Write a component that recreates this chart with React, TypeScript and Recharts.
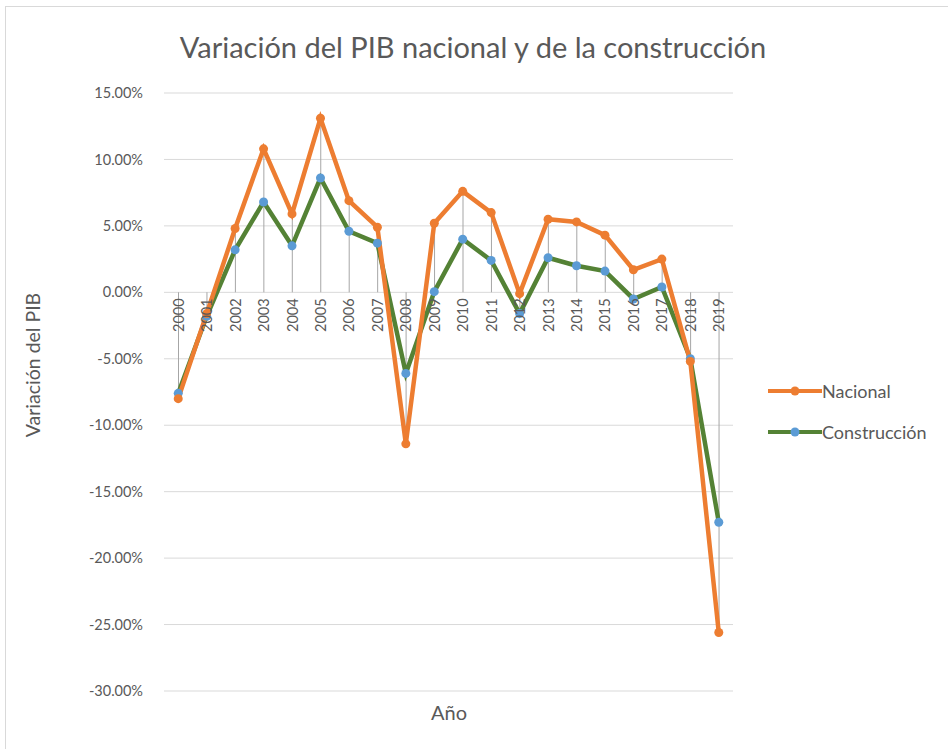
import React from "react";
import {
  ComposedChart,
  Line,
  Bar,
  XAxis,
  YAxis,
  CartesianGrid,
  LabelList,
} from "recharts";

const years = [
  "2000", "2001", "2002", "2003", "2004", "2005", "2006", "2007", "2008", "2009",
  "2010", "2011", "2012", "2013", "2014", "2015", "2016", "2017", "2018", "2019",
];

const nacional = [
  -8.0, -1.6, 4.8, 10.8, 5.9, 13.1, 6.9, 4.9, -11.4, 5.2,
  7.6, 6.0, -0.1, 5.5, 5.3, 4.3, 1.7, 2.5, -5.2, -25.6,
];

const construccion = [
  -7.6, -1.8, 3.2, 6.8, 3.5, 8.6, 4.6, 3.7, -6.1, 0.05,
  4.0, 2.4, -1.6, 2.6, 2.0, 1.6, -0.5, 0.4, -5.0, -17.3,
];

const yTicks = [15, 10, 5, 0, -5, -10, -15, -20, -25, -30];

const seriesNames = ["Nacional", "Construcción"];

const ORANGE = "#ED7D31";
const GREEN = "#548235";
const BLUE = "#5B9BD5";
const TEXT = "#595959";
const FONT = "Lato, 'Open Sans', sans-serif";

const data = years.map((year, i) => {
  const vals = [nacional[i], construccion[i]];
  const lo = Math.min(0, ...vals);
  const hi = Math.max(0, ...vals);
  return {
    year,
    nacional: nacional[i],
    construccion: construccion[i],
    drop: [lo, hi],
    zero: 0,
  };
});

const YearLabel = (props: any) => {
  const { x, y, value } = props;
  const yy = y + 6;
  return (
    <text
      x={x}
      y={yy}
      transform={`rotate(-90, ${x}, ${yy})`}
      textAnchor="end"
      dominantBaseline="central"
      fontSize={14.5}
      fill={TEXT}
      fontFamily={FONT}
    >
      {value}
    </text>
  );
};

const LegendBox = () => {
  const items = [
    { name: seriesNames[0], line: ORANGE, dot: ORANGE },
    { name: seriesNames[1], line: GREEN, dot: BLUE },
  ];
  return (
    <div
      style={{
        position: "absolute",
        left: 768,
        top: 370,
        width: 180,
        fontFamily: FONT,
      }}
    >
      {items.map((it) => (
        <div
          key={it.name}
          style={{ display: "flex", alignItems: "center", height: 41 }}
        >
          <svg width={54} height={12} style={{ flex: "none" }}>
            <line x1={0} y1={6} x2={54} y2={6} stroke={it.line} strokeWidth={4} />
            <circle cx={27} cy={6} r={4.5} fill={it.dot} />
          </svg>
          <span style={{ fontSize: 18, color: TEXT, whiteSpace: "nowrap" }}>{it.name}</span>
        </div>
      ))}
    </div>
  );
};

export default function App() {
  return (
    <div
      style={{
        position: "absolute",
        left: 0,
        top: 0,
        width: 948,
        height: 749,
        overflow: "hidden",
        background: "#fff",
      }}
    >
      <div
        style={{
          position: "absolute",
          left: 5,
          top: 6,
          width: 1000,
          height: 800,
          borderLeft: "1px solid #d9d9d9",
          borderTop: "1px solid #d9d9d9",
        }}
      />
      <div
        style={{
          position: "absolute",
          left: 473,
          top: 46,
          transform: "translate(-50%, -50%)",
          fontFamily: FONT,
          fontSize: 29,
          color: TEXT,
          whiteSpace: "nowrap",
        }}
      >
        Variación del PIB nacional y de la construcción
      </div>
      <div
        style={{
          position: "absolute",
          left: 32,
          top: 365,
          transform: "translate(-50%, -50%) rotate(-90deg)",
          fontFamily: FONT,
          fontSize: 19.5,
          color: TEXT,
          whiteSpace: "nowrap",
        }}
      >
        Variación del PIB
      </div>
      <div
        style={{
          position: "absolute",
          left: 449,
          top: 712,
          transform: "translate(-50%, -50%)",
          fontFamily: FONT,
          fontSize: 20,
          color: TEXT,
          whiteSpace: "nowrap",
        }}
      >
        Año
      </div>
      <div style={{ position: "absolute", left: 0, top: 0 }}>
        <ComposedChart
          width={948}
          height={749}
          data={data}
          margin={{ top: 93, right: 215, bottom: 58, left: 0 }}
        >
          <CartesianGrid vertical={false} stroke="#d9d9d9" strokeWidth={1} />
          <XAxis dataKey="year" hide />
          <YAxis
            width={164}
            domain={[-30, 15]}
            ticks={yTicks}
            interval={0}
            axisLine={false}
            tickLine={false}
            tickSize={0}
            tickMargin={21}
            tickFormatter={(v: number) => `${v.toFixed(2)}%`}
            tick={{ fontSize: 14.5, fill: TEXT, fontFamily: FONT }}
          />
          <Bar
            dataKey="drop"
            barSize={1}
            fill="#a6a6a6"
            isAnimationActive={false}
            legendType="none"
          />
          <Line
            dataKey="zero"
            stroke="none"
            dot={false}
            activeDot={false}
            isAnimationActive={false}
            legendType="none"
          >
            <LabelList dataKey="year" content={YearLabel} />
          </Line>
          <Line
            name={seriesNames[1]}
            dataKey="construccion"
            stroke={GREEN}
            strokeWidth={4.5}
            dot={{ r: 4.5, fill: BLUE, stroke: "none" }}
            activeDot={false}
            isAnimationActive={false}
          />
          <Line
            name={seriesNames[0]}
            dataKey="nacional"
            stroke={ORANGE}
            strokeWidth={4.5}
            dot={{ r: 4.5, fill: ORANGE, stroke: "none" }}
            activeDot={false}
            isAnimationActive={false}
          />
        </ComposedChart>
      </div>
      <LegendBox />
    </div>
  );
}
